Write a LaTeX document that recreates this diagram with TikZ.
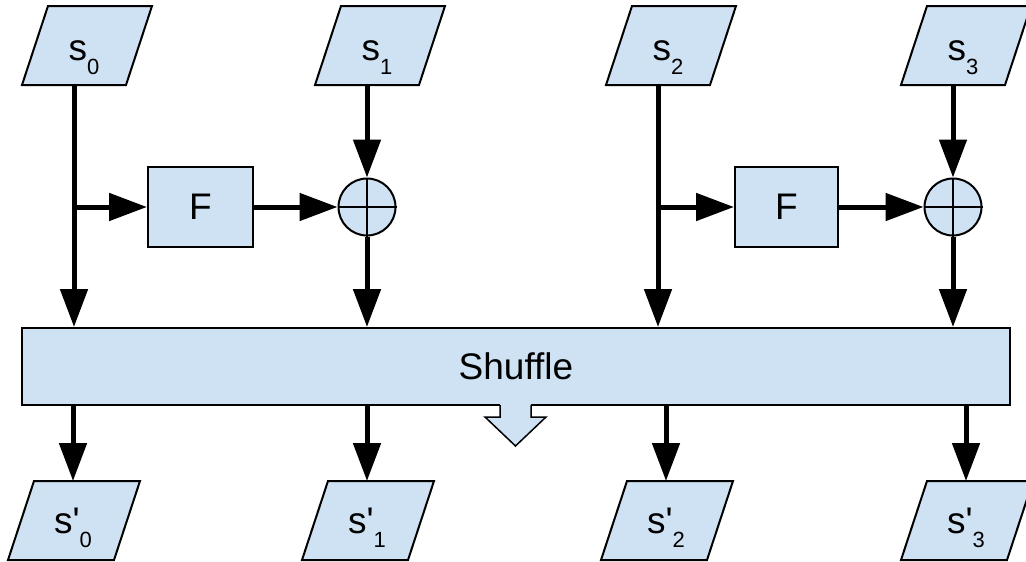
\documentclass[tikz,border=0pt]{standalone}
\usepackage{fontspec}
\setmainfont{Liberation Sans}
\usetikzlibrary{arrows.meta}
\definecolor{lb}{HTML}{CFE2F3}
\newcommand\subs[1]{\raisebox{-0.4em}{\fontsize{22}{22}\selectfont #1}}
\newcommand\pr{\textquotesingle}
\begin{document}
\begin{tikzpicture}[x=1pt,y=-1pt,
  shapeline/.style={draw=black,line width=2pt,fill=lb},
  lbl/.style={font=\fontsize{37}{44}\selectfont,inner sep=0pt},
  conn/.style={line width=5pt,-{Triangle[length=38pt,width=27pt]}},
  fbox/.style={shapeline,minimum height=80pt,inner sep=0pt,font=\fontsize{37}{44}\selectfont},
  xorc/.style={shapeline,circle,minimum size=57pt,inner sep=0pt},
  crossline/.style={line width=1.8pt},
  blockarrow/.style={line width=1.5pt,line join=miter},
]
\useasboundingbox (0,0) rectangle (1026,562);

% input parallelograms
\foreach \n/\x in {0/22,1/315,2/606,3/901} {
  \draw[shapeline] (\x,85) -- ++(104,0) -- ++(26,-79) -- ++(-104,0) -- cycle;
  \node[lbl,anchor=base] (s\n) at (\x+62,60) {s\subs{\n}};
  \coordinate (s\n b) at (\x+52,85);
}

% output parallelograms
\foreach \n/\x in {0/8,1/302,2/601,3/901} {
  \draw[shapeline] (\x,560) -- ++(106,0) -- ++(26,-79) -- ++(-106,0) -- cycle;
  \node[lbl,anchor=base] (t\n) at (\x+65,533) {s\pr\subs{\n}};
  \coordinate (t\n t) at (\x+65,481);
}

% shuffle box
\node[shapeline,lbl,minimum width=988pt,minimum height=77pt] (sh) at (516,366.5) {Shuffle};
\fill[lb] (500,403) -- (500,417) -- (485,417) -- (515.5,446) -- (546,417) -- (531,417) -- (531,403) -- cycle;
\draw[blockarrow] (500,405) -- (500,417) -- (485,417) -- (515.5,446) -- (546,417) -- (531,417) -- (531,405);

% F boxes and XORs
\node[fbox,minimum width=105pt] (f1) at (200.5,207) {F};
\node[fbox,minimum width=103pt] (f2) at (786.5,207) {F};
\node[xorc] (x1) at (367,207) {};
\node[xorc] (x2) at (953,207) {};
\draw[crossline] (x1.north) -- (x1.south) (x1.west) -- (x1.east);
\draw[crossline] (x2.north) -- (x2.south) (x2.west) -- (x2.east);

% connectors, left half
\draw[conn] (s0b) -- (s0b |- sh.north);
\draw[conn] (s0b |- f1.west) -- (f1.west);
\draw[conn] (f1.east) -- (x1.west);
\draw[conn] (s1b) -- (x1.north);
\draw[conn] (x1.south) -- (x1.south |- sh.north);
% right half
\draw[conn] (s2b) -- (s2b |- sh.north);
\draw[conn] (s2b |- f2.west) -- (f2.west);
\draw[conn] (f2.east) -- (x2.west);
\draw[conn] (s3b) -- (x2.north);
\draw[conn] (x2.south) -- (x2.south |- sh.north);

% outputs
\foreach \n in {0,1,2,3} {
  \draw[conn] (t\n t |- sh.south) -- (t\n t);
}
\end{tikzpicture}
\end{document}
